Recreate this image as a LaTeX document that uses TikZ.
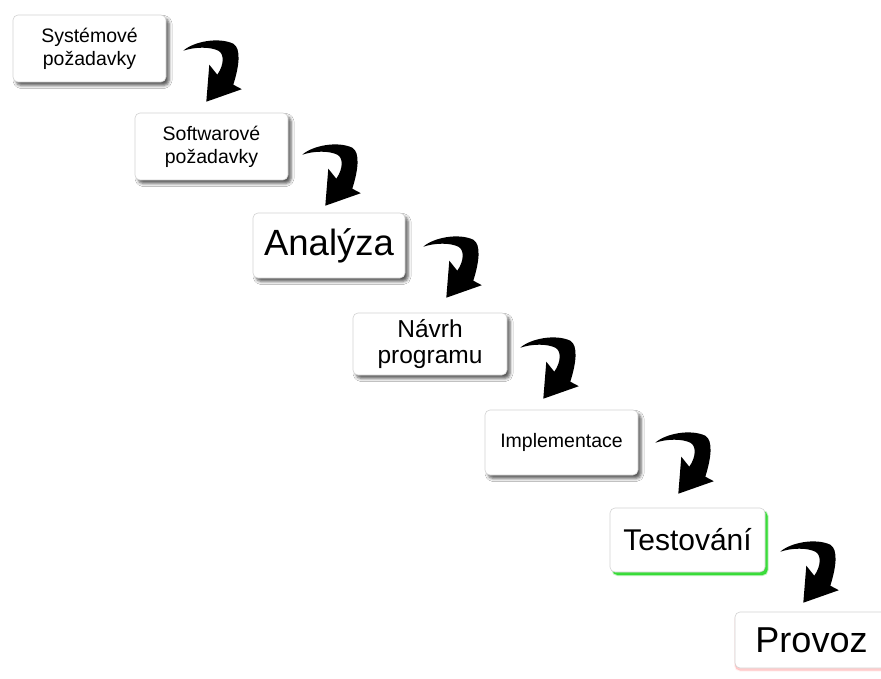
\documentclass[tikz,border=0pt]{standalone}
\usepackage{fontspec}
\setmainfont{Liberation Sans}
\usetikzlibrary{shadows.blur,calc}
\begin{document}
\begin{tikzpicture}[x=1pt,y=-1pt,
  basebox/.style={draw=gray!35, line width=0.6pt, fill=white, rounded corners=5pt,
    inner sep=0pt, align=center, minimum width=153pt, minimum height=66pt},
  stepbox/.style={basebox,
    blur shadow={shadow xshift=3pt, shadow yshift=-3.5pt, shadow blur radius=3pt, shadow opacity=65}},
  glow/.style n args={4}{
    preaction={fill=#1, draw=#1, line width=2pt, opacity=#4*0.35, transform canvas={xshift=#2, yshift=#3}},
    preaction={fill=#1, opacity=#4, transform canvas={xshift=#2, yshift=#3}}},
  smalltext/.style={font=\fontsize{19.5}{23}\selectfont},
  bentarrow/.pic={\fill[black] (0,0) .. controls (10,-9) and (35,-14) .. (50,-7)
      .. controls (58,-2) and (56,15) .. (50,34) -- (58.5,38.5) -- (23,51) -- (26,14)
      -- (34,24) .. controls (41,14) and (41,3) .. (35,0)
      .. controls (27,-4) and (12,-4) .. (0,0) -- cycle;}
]
\useasboundingbox (0,0) rectangle (881,679);
\clip (0,0) rectangle (881,679);
\fill[white] (0,0) rectangle (881,679);

\node[stepbox, smalltext, minimum height=67pt] (b1) at (89.5,48.5) {Systémové\\požadavky};
\node[stepbox, smalltext, minimum height=67pt] (b2) at (211.5,146.5) {Softwarové\\požadavky};
\node[stepbox, minimum width=152pt, minimum height=65pt, font=\fontsize{36.5}{40}\selectfont] (b3) at (329,245.5) {Analýza};
\node[stepbox, minimum width=154pt, minimum height=62pt, font=\fontsize{24.5}{26}\selectfont] (b4) at (430,344) {Návrh\\programu};
\node[stepbox, smalltext, minimum height=65pt] (b5) at (561.5,442.5) {Implementace};
\node[basebox, glow={green!70!gray}{2.5pt}{-3pt}{0.85}, minimum width=155pt, minimum height=64pt,
  font=\fontsize{30}{34}\selectfont] (b6) at (687.5,540) {Testování};
\node[basebox, glow={red!50}{0pt}{-2.5pt}{0.3}, minimum width=153pt, minimum height=56pt,
  font=\fontsize{36}{40}\selectfont] (b7) at (811.5,640) {Provoz};

\pic at ($(b1.north east)+(17,36)$) {bentarrow};
\pic at ($(b2.north east)+(14,42)$) {bentarrow};
\pic at ($(b3.north east)+(18,34)$) {bentarrow};
\pic at ($(b4.north east)+(13,35)$) {bentarrow};
\pic at ($(b5.north east)+(17,33)$) {bentarrow};
\pic at ($(b6.north east)+(15,44)$) {bentarrow};
\end{tikzpicture}
\end{document}
